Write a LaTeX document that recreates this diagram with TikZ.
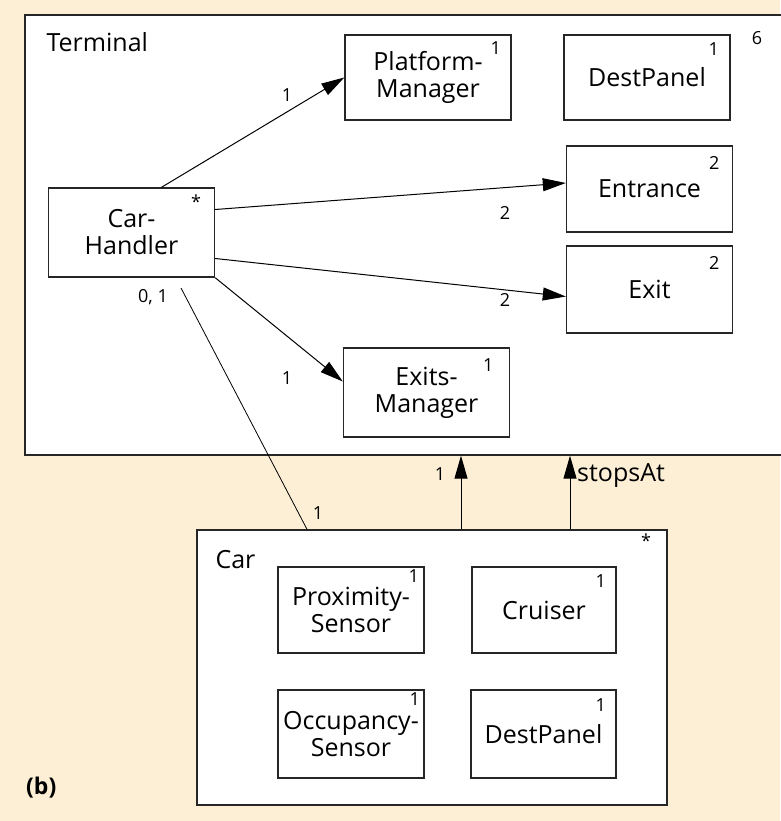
\documentclass[tikz,border=0pt]{standalone}
\usepackage{fontspec}
\setmainfont{Open Sans}
\usetikzlibrary{arrows.meta}
\definecolor{paper}{RGB}{252,239,213}
\tikzset{
  cls/.style={draw=black!85, fill=white, line width=1.4pt, inner sep=0pt,
    minimum width=166pt, minimum height=86pt, align=center,
    font=\fontsize{25}{27}\selectfont},
  part/.style={cls, minimum width=146pt},
  mult/.style={inner sep=0pt, font=\fontsize{18}{19}\selectfont},
  lbl/.style={inner sep=0pt, font=\fontsize{25}{27}\selectfont},
  assoc/.style={line width=1pt, -{Triangle[length=23pt,width=13pt]}},
}
\begin{document}
\begin{tikzpicture}[x=1pt, y=-1pt]
  % Hintergrund
  \fill[paper] (0,0) rectangle (780,821);
  \useasboundingbox (0,0) rectangle (780,821);
  % Terminal
  \node[cls, minimum width=770pt, minimum height=440pt] (term) at (410,235) {};
  \node[lbl, anchor=base west] (termlbl) at ([shift={(22,37)}]term.north west) {Terminal};
  \node[mult] (termmult) at (757,38) {6};
  \node[cls, minimum height=85pt] (pm) at (428,77.5) {Platform-\\Manager};
  \node[cls, minimum height=85pt] (dp) at (647,77.5) {DestPanel};
  \node[cls] (ent) at (649.5,189) {Entrance};
  \node[cls, minimum height=87pt] (exit) at (649.5,289.5) {Exit};
  \node[cls, minimum height=89pt] (ch) at (131.5,232.5) {Car-\\Handler};
  \node[cls, minimum height=89pt] (em) at (426.5,392.5) {Exits-\\Manager};
  % Multiplizitaeten in den Klassen
  \node[mult] (pmm) at ([shift={(-16,14)}]pm.north east) {1};
  \node[mult] (dpm) at ([shift={(-17,15)}]dp.north east) {1};
  \node[mult] (entm) at ([shift={(-19,18)}]ent.north east) {2};
  \node[mult] (exitm) at ([shift={(-19,18)}]exit.north east) {2};
  \node[mult] (chm) at ([shift={(-19,14)}]ch.north east) {*};
  \node[mult] (emm) at ([shift={(-22,18)}]em.north east) {1};
  % Assoziationen
  \draw[assoc] ([xshift=30pt]ch.north) -- (pm.west);
  \draw[assoc] ([yshift=23pt]ch.east) -- ([yshift=6pt]ent.west);
  \draw[assoc] ([yshift=-26pt]ch.east) -- ([yshift=-7pt]exit.west);
  \draw[assoc] (ch.south east) -- ([yshift=11pt]em.west);
  \node[mult] (a1) at (287,95) {1};
  \node[mult] (a2) at (505,213) {2};
  \node[mult] (a3) at (505,300) {2};
  \node[mult] (a4) at (287,378) {1};
  % Car
  \node[cls, minimum width=470pt, minimum height=275pt] (car) at (432,667.5) {};
  \node[lbl, anchor=base west] (carlbl) at ([shift={(19,39)}]car.north west) {Car};
  \node[mult] (carm) at (646,541) {*};
  \node[part] (prox) at (351,610) {Proximity-\\Sensor};
  \node[part, minimum width=144pt] (cru) at (544,610) {Cruiser};
  \node[part, minimum height=88pt] (occ) at (351,734) {Occupancy-\\Sensor};
  \node[part, minimum width=145pt, minimum height=88pt] (dp2) at (543.5,734) {DestPanel};
  \node[mult] (proxm) at ([shift={(-11,10)}]prox.north east) {1};
  \node[mult] (crum) at ([shift={(-16,15)}]cru.north east) {1};
  \node[mult] (occm) at ([shift={(-10,10)}]occ.north east) {1};
  \node[mult] (dp2m) at ([shift={(-16,16)}]dp2.north east) {1};
  % Car -- Terminal
  \coordinate (chb) at (181,288);
  \draw[line width=0.8pt] (chb) -- ([xshift=-125pt]car.north);
  \node[mult] (c01) at (153,297) {0, 1};
  \node[mult] (c1) at (318,513) {1};
  \draw[assoc] ([xshift=29pt]car.north) -- ([xshift=29pt]car.north |- term.south);
  \draw[assoc] ([xshift=138pt]car.north) -- ([xshift=138pt]car.north |- term.south);
  \node[mult] (t1) at (440,474) {1};
  \node[lbl, anchor=west] (stops) at (577,476) {stopsAt};
  % Teilbild
  \node[lbl, anchor=base west, font=\bfseries\fontsize{23}{25}\selectfont] (b) at (26,794) {(b)};
\end{tikzpicture}
\end{document}
